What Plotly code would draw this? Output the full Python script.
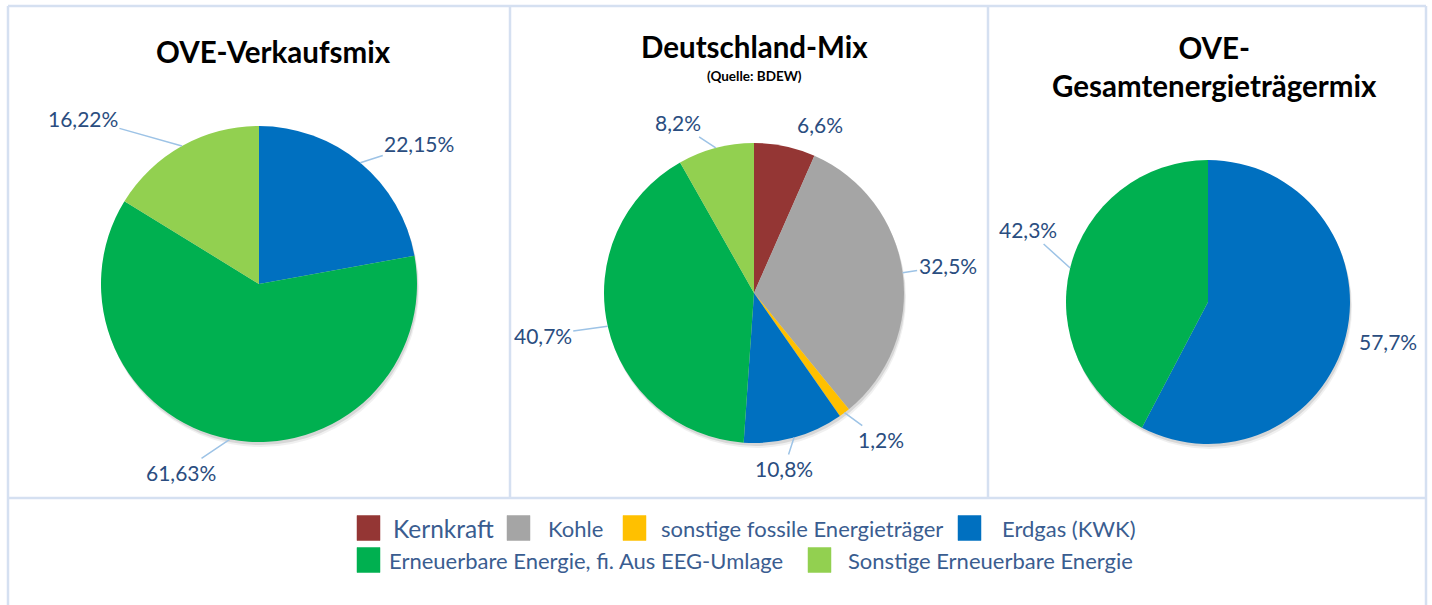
import math
import plotly.graph_objects as go

W, H = 1432, 605

# ---------------- data ----------------
categories = [
    "Kernkraft",
    "Kohle",
    "sonstige fossile Energieträger",
    "Erdgas (KWK)",
    "Erneuerbare Energie, fi. Aus EEG-Umlage",
    "Sonstige Erneuerbare Energie",
]
category_colors = ["#943634", "#a5a5a5", "#ffc000", "#0070c0", "#00b050", "#92d050"]

ove_labels = ["Erdgas (KWK)", "Erneuerbare Energie, fi. Aus EEG-Umlage", "Sonstige Erneuerbare Energie"]
ove_values = [22.15, 61.63, 16.22]

de_labels = categories
de_values = [6.6, 32.5, 1.2, 10.8, 40.7, 8.2]

ges_labels = ["Erdgas (KWK)", "Erneuerbare Energie, fi. Aus EEG-Umlage"]
ges_values = [57.7, 42.3]

titles = ["OVE-Verkaufsmix", "Deutschland-Mix", "OVE-<br>Gesamtenergieträgermix"]
subtitle = "(Quelle: BDEW)"

# ---------------- layout / style ----------------
FONT = "Lato"
LABEL_COLOR = "#2a4d80"
LEGEND_COLOR = "#3a5d90"
LEADER_COLOR = "#9dc3e6"
BORDER_COLOR = "#d5e0f1"
color_of = dict(zip(categories, category_colors))

# pie geometry in pixels: centre x, centre y, radius
pie_geom = [(259, 284, 158), (754, 293, 150), (1208, 302, 142)]
# label offsets (px) from slice edge midpoint: (dx, dy, draw leader)
label_offsets = [
    [(59, -19, True), (-49, 33, True), (-99, -28, True)],
    [(35, -22, False), (45, -7, True), (37, 27, True), (-10, 31, True), (-65, 9, True), (-38, -25, True)],
    [(42, 5, False), (-42, -38, True)],
]
decimals = [2, 1, 1]
title_pos = [(273, 52, 29.5), (754, 47, 29.5), (1214, 67, 29.5)]

pies = [
    (ove_labels, ove_values),
    (de_labels, de_values),
    (ges_labels, ges_values),
]

fig = go.Figure()
annotations = []
shapes = []

for i, (labels, values) in enumerate(pies):
    cx, cy, r = pie_geom[i]
    dom_x = [(cx - r) / W, (cx + r) / W]
    dom_y = [1 - (cy + r) / H, 1 - (cy - r) / H]
    fig.add_trace(go.Pie(
        labels=labels,
        values=values,
        marker=dict(colors=[color_of[l] for l in labels], line=dict(width=0)),
        sort=False,
        direction="clockwise",
        rotation=0,
        textinfo="none",
        hoverinfo="label+percent",
        domain=dict(x=dom_x, y=dom_y),
        showlegend=False,
    ))
    # soft shadow
    for off, op in [(5, 0.06), (3, 0.10)]:
        shapes.append(dict(
            type="circle", xref="paper", yref="paper", layer="below",
            x0=(cx - r + off * 0.4) / W, x1=(cx + r + off * 0.4) / W,
            y0=1 - (cy + r + off) / H, y1=1 - (cy - r + off) / H,
            fillcolor=f"rgba(0,0,0,{op})", line=dict(width=0),
        ))
    total = sum(values)
    cum = 0.0
    for j, v in enumerate(values):
        mid = (cum + v / 2) / total * 2 * math.pi
        cum += v
        ex = cx + r * math.sin(mid)
        ey = cy - r * math.cos(mid)
        dx, dy, leader = label_offsets[i][j]
        txt = f"{v:.{decimals[i]}f}%".replace(".", ",")
        annotations.append(dict(
            x=ex / W, y=1 - ey / H, xref="paper", yref="paper",
            text=txt, showarrow=True, arrowhead=0, standoff=0, startstandoff=0,
            arrowwidth=1.5,
            arrowcolor=LEADER_COLOR if leader else "rgba(0,0,0,0)",
            ax=dx, ay=dy,
            font=dict(family=FONT, size=21, color=LABEL_COLOR),
        ))

# titles
for (tx, ty, ts), t in zip(title_pos, titles):
    annotations.append(dict(
        x=tx / W, y=1 - ty / H, xref="paper", yref="paper", showarrow=False,
        text=f"<b>{t}</b>", font=dict(family=FONT, size=ts, color="#000000"),
        xanchor="center", yanchor="middle",
    ))
annotations.append(dict(
    x=754 / W, y=1 - 76 / H, xref="paper", yref="paper", showarrow=False,
    text=f"<b>{subtitle}</b>", font=dict(family=FONT, size=13.5, color="#000000"),
    xanchor="center", yanchor="middle",
))

# panel borders
def hline(x0, x1, y):
    return dict(type="line", xref="paper", yref="paper", x0=x0 / W, x1=x1 / W,
                y0=1 - y / H, y1=1 - y / H, line=dict(color=BORDER_COLOR, width=2.5), layer="below")

def vline(x, y0, y1):
    return dict(type="line", xref="paper", yref="paper", x0=x / W, x1=x / W,
                y0=1 - y0 / H, y1=1 - y1 / H, line=dict(color=BORDER_COLOR, width=2.5), layer="below")

shapes += [hline(8, 1426, 6), hline(8, 1426, 498), vline(8, 6, 610), vline(1426, 6, 610),
           vline(510, 6, 498), vline(988, 6, 498)]

# manual legend: (square x, row y, text x, font size)
legend_pos = [
    (357, 528, 391, 24.5),
    (507, 528, 546, 22),
    (623, 528, 659, 22),
    (958, 528, 1000, 22),
    (357, 560, 387, 22),
    (808, 560, 846, 22),
]
for cat, col, (sx, sy, tx, fs) in zip(categories, category_colors, legend_pos):
    shapes.append(dict(
        type="rect", xref="paper", yref="paper",
        x0=sx / W, x1=(sx + 23) / W, y0=1 - (sy + 12.5) / H, y1=1 - (sy - 12.5) / H,
        fillcolor=col, line=dict(width=0.5, color=col),
    ))
    annotations.append(dict(
        x=tx / W, y=1 - sy / H, xref="paper", yref="paper", showarrow=False,
        text=cat, xanchor="left", yanchor="middle",
        font=dict(family=FONT, size=fs, color=LEGEND_COLOR),
    ))

fig.update_layout(
    width=W, height=H,
    margin=dict(l=0, r=0, t=0, b=0),
    paper_bgcolor="white", plot_bgcolor="white",
    annotations=annotations, shapes=shapes,
    showlegend=False,
    font=dict(family=FONT),
)

fig.write_html(
    "out.html",
    config={"displayModeBar": False},
    post_script="document.body.style.margin='0px';document.body.style.overflow='hidden';",
)
